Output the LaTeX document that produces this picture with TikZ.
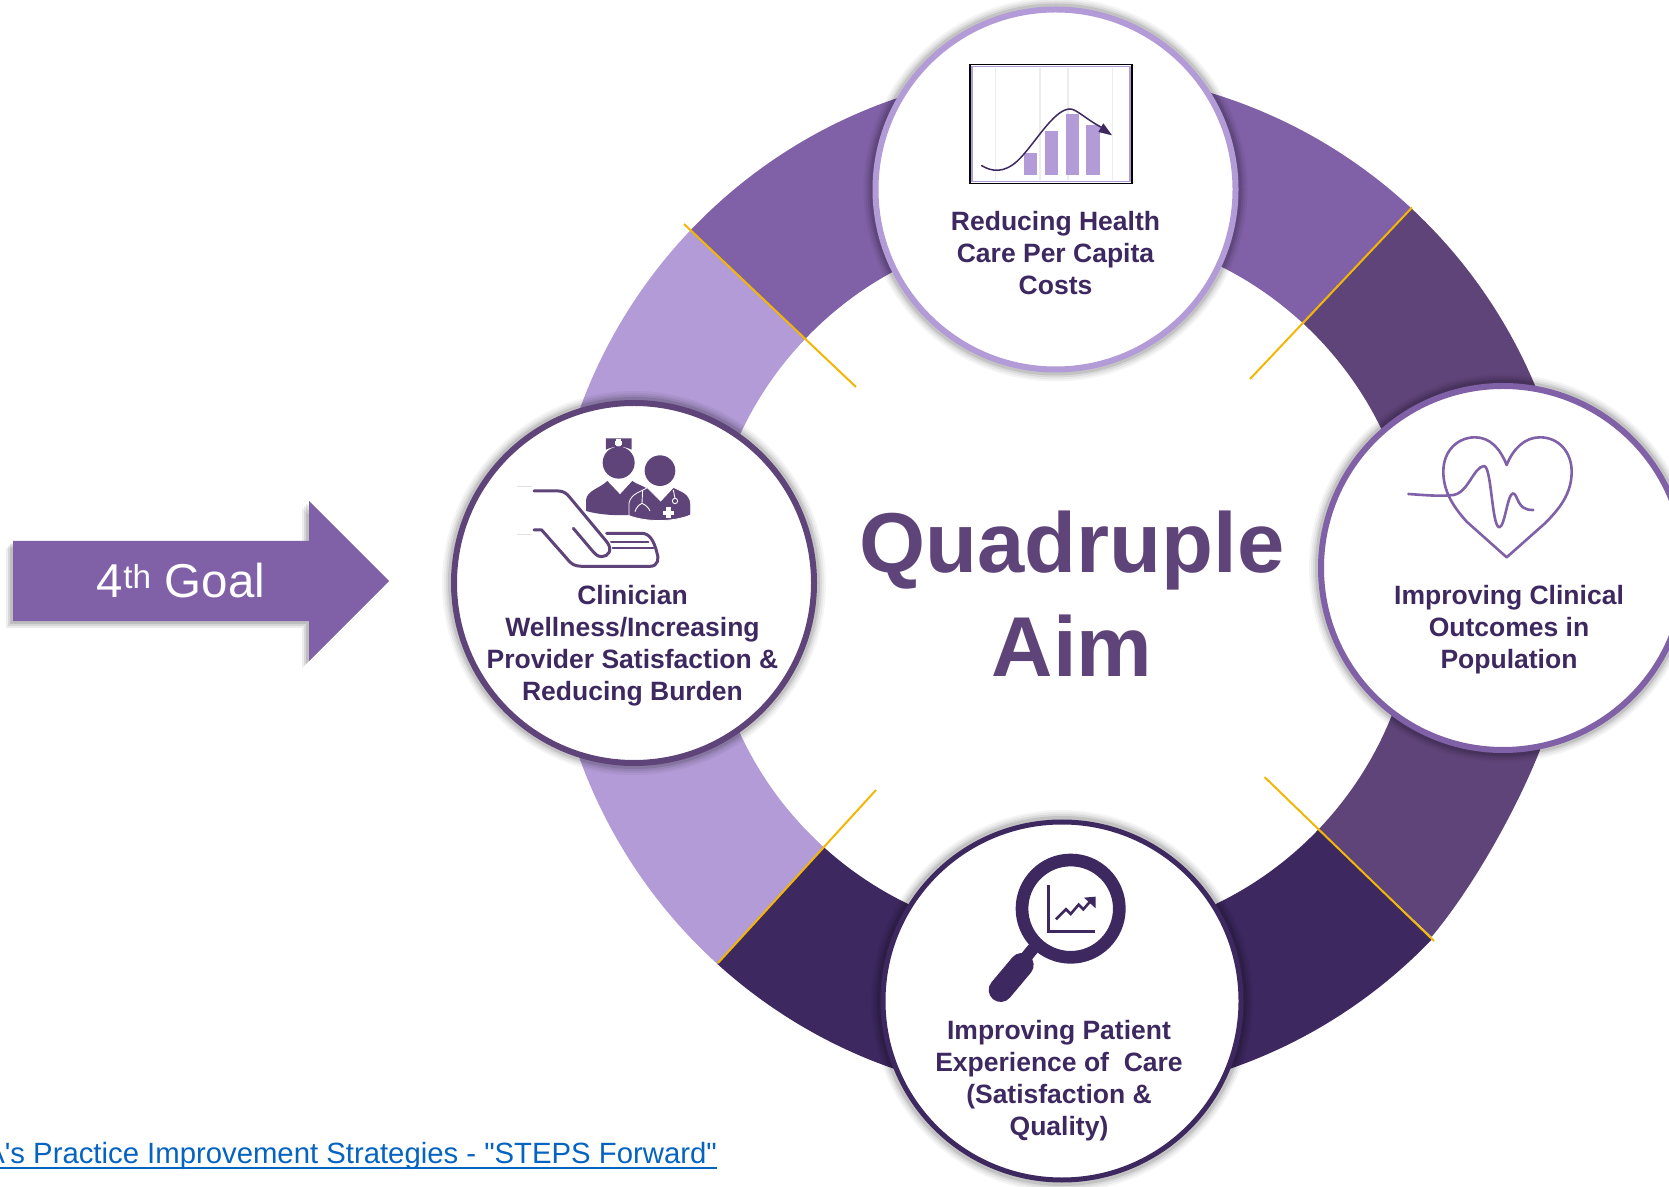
\documentclass[tikz,border=0pt]{standalone}
\usepackage{fontspec}
\setmainfont{Liberation Sans}[Ligatures=TeXOff]
\usepackage{tikz}
\usetikzlibrary{positioning,shapes.arrows}

\definecolor{aimlight}{HTML}{B29BD6}
\definecolor{aimmid}{HTML}{8060A6}
\definecolor{aimdeep}{HTML}{5F4479}
\definecolor{aimdark}{HTML}{3E2860}
\definecolor{tickgold}{HTML}{F2B705}
\definecolor{linkblue}{HTML}{0563C1}

\newcommand{\linkline}[1]{\setbox0\hbox{#1}\rlap{\rule[-6pt]{\wd0}{2pt}}\box0}

\tikzset{
  softglow/.style={
    preaction={draw=black, line width=24pt, draw opacity=.04, fill=none},
    preaction={draw=black, line width=20pt, draw opacity=.05, fill=none},
    preaction={draw=black, line width=16pt, draw opacity=.07, fill=none},
    preaction={draw=black, line width=12pt, draw opacity=.10, fill=none}},
  aim/.style={shape=circle, fill=white, line width=6pt, minimum size=360pt,
    inner sep=0pt, softglow},
  aimtext/.style={font=\fontsize{26.5}{32}\selectfont\bfseries, text=aimdark,
    align=center, inner sep=0pt},
  hubtext/.style={font=\fontsize{85}{104}\selectfont\bfseries, text=aimdeep,
    align=center, inner sep=0pt},
  goaltail/.style={shape=single arrow, fill=aimmid, minimum height=376pt,
    text height=80pt, text depth=0pt, single arrow head extend=40pt, inner sep=0pt,
    anchor=tail, shape border rotate=0},
  tick/.style={-, draw=tickgold, line width=2pt},
  handline/.style={draw=aimdeep, line width=3pt, line cap=round, line join=round},
  hearthline/.style={draw=aimmid, line width=2.6pt, line cap=round, line join=round},
  zoomed/.style={x=0.3333pt, y=-0.3333pt}
}

\begin{document}
\begin{tikzpicture}[x=1pt, y=1pt, on grid]
      \clip (0,0) rectangle (1669,1186);
      \coordinate (Ring) at (1062,602);

      \foreach \from/\to/\segcolor in {47.1/136.4/aimmid, 136.4/227.8/aimlight,
          227.8/316.2/aimdark, 360/407.1/aimdeep}
        \fill[\segcolor] ([shift={(\from:513pt)}]Ring)
          arc[start angle=\from, end angle=\to, radius=513pt]
          -- ([shift={(\to:355pt)}]Ring)
          arc[start angle=\to, end angle=\from, radius=355pt] -- cycle;
      \fill[aimdeep] (1575,602) -- (1540,436)
          .. controls (1520,385) and (1478,305) .. (1431.7,249.3)
          -- ([shift={(316.2:355pt)}]Ring)
          arc[start angle=316.2, end angle=360, radius=355pt] -- cycle;

      \coordinate (TickAo) at (684,962);
      \coordinate (TickAi) at (856,799);
      \coordinate (TickBo) at (1412,978.5);
      \coordinate (TickBi) at (1250,807);
      \coordinate (TickCo) at (1434,245);
      \coordinate (TickCi) at (1264.5,409);
      \coordinate (TickDo) at (718,223);
      \coordinate (TickDi) at (876,396);
      \path [tick] (TickAo) edge (TickAi);
      \path [tick] (TickBo) edge (TickBi);
      \path [tick] (TickCo) edge (TickCi);
      \path [tick] (TickDo) edge (TickDi);

      \node[hubtext] (Hub) at (1072,592) {Quadruple\\Aim};
      \node[aim, draw=aimlight] (Top)
           [above left = 404.5pt and 16.5pt of Hub] {};
      \node[aim, draw=aimdeep] (Left)
           [above left = 11pt and 438pt of Hub] {};
      \node[aim, draw=aimmid, minimum size=364pt] (Right)
           [above right = 26pt and 431pt of Hub] {};
      \node[aim, draw=aimdark, line width=5pt, minimum size=358pt] (Bottom)
           [below left = 407pt and 10pt of Hub] {};

      \node[aimtext] (TopText)
           [below = 64pt of Top] {Reducing Health\\Care Per Capita\\Costs};
      \node[aimtext] (LeftText)
           [below left = 63pt and 1.5pt of Left]
           {Clinician\\Wellness/Increasing\\Provider Satisfaction \&\\Reducing Burden};
      \node[aimtext] (RightText)
           [below right = 62pt and 6pt of Right]
           {Improving Clinical\\Outcomes in\\Population};
      \node[aimtext] (BottomText)
           [below left = 80pt and 3pt of Bottom]
           {Improving Patient\\Experience of \ Care\\(Satisfaction \&\\Quality)};

      \node[goaltail,
            preaction={fill=black, fill opacity=.07, transform canvas={xshift=-7pt, yshift=-7pt}},
            preaction={fill=black, fill opacity=.09, transform canvas={xshift=-5pt, yshift=-5pt}},
            preaction={fill=black, fill opacity=.12, transform canvas={xshift=-3pt, yshift=-3pt}}]
           (Goal) at (13,605) {};
      \node[font=\fontsize{47.5}{50}\selectfont, text=white, inner sep=0pt] (GoalText)
           [right = 168pt of Goal.tail, anchor=center] {4\textsuperscript{th} Goal};

      \node[font=\fontsize{29.3}{32}\selectfont, text=linkblue, anchor=base east, inner sep=0pt]
           (Link) at (717,23)
           {\linkline{A's Practice Improvement Strategies - "STEPS Forward"}};

      \begin{scope}[shift={(850,1186)}, zoomed]
        \fill[white] (360,194) rectangle (846,550);
        \draw[aimlight, line width=1.6pt] (366,200) rectangle (840,544);
        \foreach \gridx in {437,570,654,787}
          \draw[black!7, line width=1.2pt] (\gridx,203) -- (\gridx,541);
        \draw[black, line width=1.5pt] (360,194) rectangle (846,550);
        \fill[aimlight] (522,458) rectangle (561,524);
        \fill[aimlight] (584,393) rectangle (624,524);
        \fill[aimlight] (648,342) rectangle (687,524);
        \fill[aimlight] (708,376) rectangle (750,524);
        \draw[aimdark, line width=1.5pt, line cap=round] (395,497)
          .. controls (425,515) and (460,520) .. (500,485)
          .. controls (550,440) and (610,327) .. (660,327)
          .. controls (680,327) and (710,360) .. (760,385);
        \fill[aimdark] (786,406) -- (760,370) -- (745,396) -- cycle;
      \end{scope}

      \begin{scope}[shift={(510,761)}, zoomed]
        \fill[aimdeep] (288,40) -- (365,40) -- (365,74)
          .. controls (340,62) and (312,62) .. (288,74) -- cycle;
        \fill[white] (319,43) rectangle (332,64);
        \fill[white] (315,47) rectangle (337,59);
        \fill[aimdeep] (326,113) circle[radius=48];
        \fill[aimdeep] (450,137) circle[radius=46];
        \fill[aimdeep] (228,258) -- (228,225)
          .. controls (232,195) and (270,190) .. (292,168)
          -- (330,208) -- (367,168)
          .. controls (380,178) and (400,182) .. (412,192)
          -- (360,270) .. controls (320,272) and (270,270) .. (228,258) -- cycle;
        \filldraw[fill=aimdeep, draw=white, line width=.8pt] (357,272) -- (357,235)
          .. controls (362,205) and (395,200) .. (412,188)
          -- (452,228) -- (490,187)
          .. controls (510,197) and (540,205) .. (542,235)
          -- (542,270) .. controls (490,292) and (410,292) .. (357,272) -- cycle;
        \draw[white, line width=.9pt] (398,195) -- (396,235)
          .. controls (385,240) and (378,250) .. (375,260)
          (396,235) .. controls (408,240) and (417,250) .. (420,258)
          (490,195) -- (495,220);
        \draw[white, line width=.9pt] (495,228) circle[radius=8];
        \fill[white] (469,247) rectangle (482,279);
        \fill[white] (459,257) rectangle (493,270);
        \draw[handline] (72,198) -- (145,198)
          .. controls (160,198) and (170,205) .. (180,218)
          -- (290,350) .. controls (310,375) and (295,395) .. (275,395)
          .. controls (260,395) and (255,385) .. (245,375) -- (190,310);
        \draw[handline] (72,315) -- (95,315) -- (170,400)
          .. controls (185,420) and (195,423) .. (215,424)
          -- (420,424) .. controls (445,424) and (448,400) .. (440,380)
          .. controls (432,350) and (420,325) .. (395,325) -- (290,325);
        \draw[handline, line width=2pt] (303,350) -- (415,350);
        \draw[handline, line width=2pt] (308,370) -- (430,370);
        \draw[black!12, line width=.8pt] (22,183) -- (66,183) (22,327) -- (66,327);
      \end{scope}

      \begin{scope}[shift={(1310,806)}, zoomed]
        \draw[hearthline] (590,532) -- (470,425)
          .. controls (425,375) and (400,330) .. (400,275)
          .. controls (400,210) and (445,172) .. (495,172)
          .. controls (540,172) and (570,205) .. (590,255)
          .. controls (610,205) and (645,172) .. (690,172)
          .. controls (745,172) and (785,215) .. (785,275)
          .. controls (785,340) and (750,385) .. (705,430) -- cycle;
        \draw[hearthline] (295,342) .. controls (340,345) and (390,350) .. (430,345)
          .. controls (475,338) and (490,262) .. (522,258)
          .. controls (545,258) and (545,440) .. (568,442)
          .. controls (585,440) and (592,340) .. (610,340)
          .. controls (625,345) and (620,392) .. (670,390);
      \end{scope}

      \begin{scope}[shift={(980,336)}, zoomed]
        \draw[aimdark, line width=12.7pt] (272,176) circle[radius=146];
        \draw[aimdark, line width=12pt] (160,295) -- (130,332);
        \draw[aimdark, line width=24pt, line cap=round] (125,345) -- (62,420);
        \draw[aimdark, line width=3.2pt] (205,105) -- (205,245) -- (345,245);
        \draw[aimdark, line width=2.6pt, line join=miter] (228,208) -- (258,178)
          -- (272,192) -- (296,164) -- (310,178) -- (330,155);
        \fill[aimdark] (347,140) -- (312,143) -- (347,175) -- cycle;
      \end{scope}
\end{tikzpicture}
\end{document}
